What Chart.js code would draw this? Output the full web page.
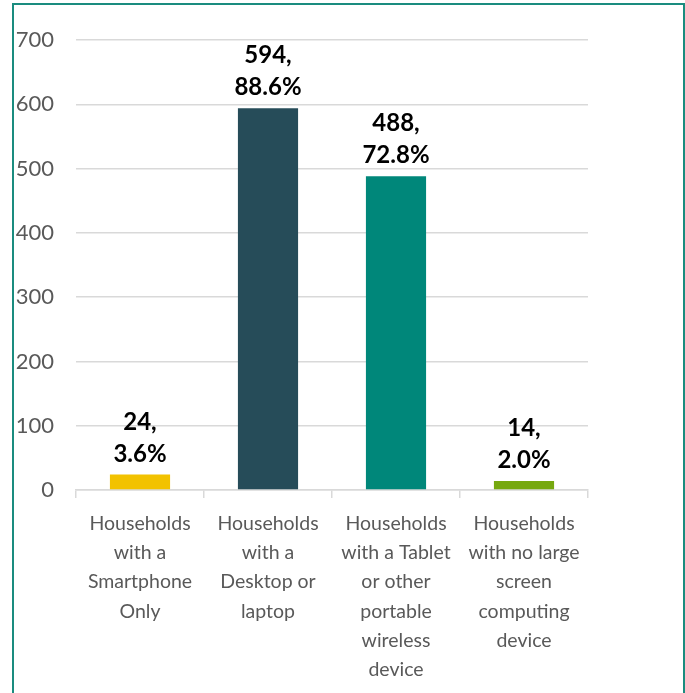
<!DOCTYPE html>
<html>
<head>
<meta charset="utf-8">
<script src="https://cdn.jsdelivr.net/npm/chart.js@4.4.1/dist/chart.umd.min.js"></script>
<style>
  html, body { margin: 0; padding: 0; background: #fff; overflow: hidden; }
  #wrap { position: relative; width: 685px; height: 693px; }
  #myChart { position: absolute; left: 0; top: 0; }
  #frame {
    position: absolute; left: 12px; top: 3px; width: 669px; height: 720px;
    border: 2px solid #1a8c7f; pointer-events: none;
  }
</style>
</head>
<body>
<div id="wrap">
  <canvas id="myChart" width="685" height="693"></canvas>
  <div id="frame"></div>
</div>
<script>
// categories (multi-line labels as in the picture)
const categorias = [
  ["Households", "with a", "Smartphone", "Only"],
  ["Households", "with a", "Desktop or", "laptop"],
  ["Households", "with a Tablet", "or other", "portable", "wireless", "device"],
  ["Households", "with no large", "screen", "computing", "device"]
];
const hogares = [24, 594, 488, 14];
const porcentajes = ["3.6%", "88.6%", "72.8%", "2.0%"];
const colores = ["#f2c200", "#264c59", "#00877a", "#76a80f"];
const ticksY = [0, 100, 200, 300, 400, 500, 600, 700];

// etiquetas encima de cada barra
const etiquetasBarras = {
  id: "etiquetasBarras",
  afterDatasetsDraw(chart) {
    const ctx = chart.ctx;
    const meta = chart.getDatasetMeta(0);
    ctx.save();
    ctx.font = "bold 24px Lato";
    ctx.fillStyle = "#000";
    ctx.textAlign = "center";
    ctx.textBaseline = "alphabetic";
    meta.data.forEach(function (bar, i) {
      ctx.fillText(hogares[i] + ",", bar.x, bar.y - 45);
      ctx.fillText(porcentajes[i], bar.x, bar.y - 13);
    });
    ctx.restore();
  },
};

const data = {
  labels: categorias,
  datasets: [
    {
      label: "Households",
      data: hogares,
      backgroundColor: colores,
      borderWidth: 0,
      barPercentage: 0.47,
      categoryPercentage: 1,
    },
  ],
};

const config = {
  type: "bar",
  data,
  options: {
    responsive: false,
    animation: false,
    layout: { padding: { left: 16, right: 97, top: 40, bottom: 0 } },
    plugins: { legend: { display: false }, tooltip: { enabled: false } },
    scales: {
      y: {
        min: 0,
        max: 700,
        afterBuildTicks: function (scale) {
          scale.ticks = ticksY.map(function (v) { return { value: v }; });
        },
        afterFit: function (scale) { scale.width = 60; },
        grid: { color: "#d9d9d9", lineWidth: 1.5, drawTicks: false },
        border: { display: false },
        ticks: {
          color: "#595959",
          padding: 22,
          font: { family: "Lato", size: 22 },
        },
      },
      x: {
        afterFit: function (scale) { scale.height = 203; },
        grid: {
          offset: true,
          drawOnChartArea: false,
          drawTicks: true,
          tickLength: 8,
          color: "#d9d9d9",
          lineWidth: 1.5,
        },
        border: { color: "#d9d9d9", width: 1.5 },
        ticks: {
          color: "#595959",
          autoSkip: false,
          maxRotation: 0,
          padding: 11,
          font: { family: "Lato", size: 19.5, lineHeight: 1.5 },
        },
      },
    },
  },
  plugins: [etiquetasBarras],
};

const myChart = new Chart(document.getElementById("myChart"), config);
</script>
</body>
</html>
